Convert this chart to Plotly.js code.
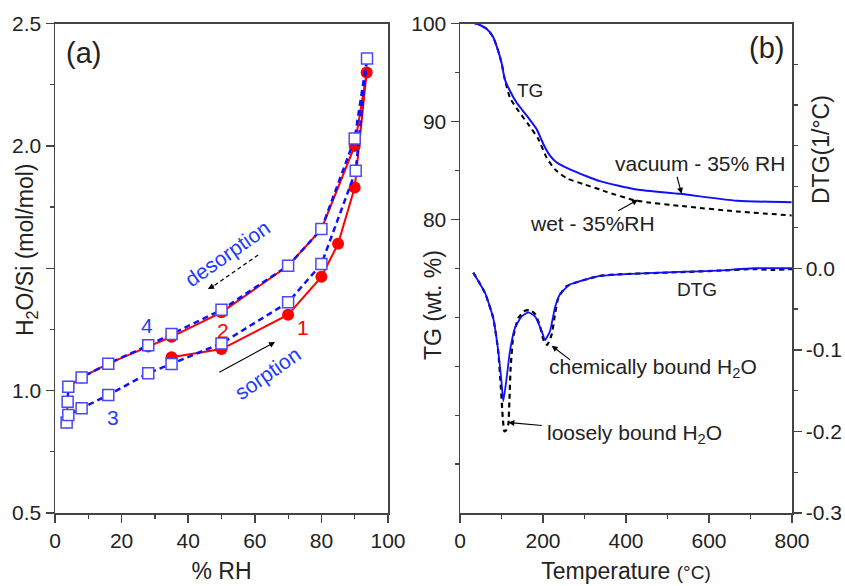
<!DOCTYPE html>
<html>
<head>
<meta charset="utf-8">
<script src="https://cdn.plot.ly/plotly-3.0.1.min.js"></script>
<style>html,body{margin:0;padding:0;background:#fff}#chart{width:845px;height:586px}</style>
</head>
<body>
<div id="chart"></div>
<script>
// ---------- Panel (a): water sorption isotherms ----------
const rhRed   = [35, 50, 70, 80, 85, 90, 93.6, 90, 80, 70, 50, 35, 28, 16, 8, 4, 3.5];
const h2oRed  = [1.136, 1.17, 1.31, 1.465, 1.60, 1.83, 2.30, 2.0, 1.66, 1.51, 1.32, 1.22, 1.18, 1.11, 1.054, 1.016, 0.87];
const rhBlue  = [3.5, 4, 8, 16, 28, 35, 50, 70, 80, 90.3, 93.7, 90, 80, 70, 50, 35, 28, 16, 8, 4, 3.8];
const h2oBlue = [0.87, 0.90, 0.928, 0.982, 1.071, 1.109, 1.193, 1.361, 1.517, 1.898, 2.357, 2.03, 1.66, 1.51, 1.33, 1.231, 1.185, 1.11, 1.054, 1.016, 0.955];

// ---------- Panel (b): TG / DTG ----------
const tTgVac  = [35, 40, 64, 80, 92, 100.5, 108, 120.5, 136.6, 160.7, 184.8, 200.7, 216.9, 233, 265, 305, 337, 426, 530, 667, 799];
const tgVac   = [100, 100, 99.46, 98.6, 97.2, 95.9, 94.3, 93.1, 91.9, 90.6, 89.2, 87.7, 86.5, 85.8, 85.1, 84.4, 83.9, 83.05, 82.6, 81.9, 81.75];
const tTgWet  = [35, 40, 64, 80, 92, 100.5, 108, 120.5, 140.5, 164.6, 188.7, 208.8, 228.9, 257, 297, 337, 353, 426, 546, 667, 799];
const tgWet   = [100, 100, 99.46, 98.6, 97.2, 95.9, 94.3, 92.4, 91.1, 89.7, 88.2, 86.3, 85.1, 84.2, 83.6, 83.05, 82.8, 81.9, 81.3, 80.8, 80.4];

const tDtgVac = [32, 60, 80, 92, 100.5, 104.3, 112.5, 120.5, 132.5, 148.7, 164.6, 180.7, 196.9, 204.8, 216.9, 228.9, 241, 265, 305, 337, 386, 546, 620, 707, 800];
const dtgVac  = [-0.0054, -0.030, -0.061, -0.101, -0.142, -0.163, -0.134, -0.101, -0.073, -0.059, -0.054, -0.059, -0.077, -0.088, -0.077, -0.048, -0.032, -0.020, -0.0135, -0.0094, -0.0074, -0.0042, -0.003, 0, 0];
const tDtgWet = [32, 60, 80, 92, 98, 103, 107, 112, 116.5, 119, 122, 128, 140.5, 156.6, 168.7, 180.7, 192.8, 200.7, 210, 221, 229, 237, 257, 305, 337, 386, 546, 620, 707, 750, 800];
const dtgWet  = [-0.0054, -0.030, -0.061, -0.101, -0.142, -0.183, -0.200, -0.198, -0.191, -0.163, -0.122, -0.085, -0.061, -0.052, -0.0515, -0.056, -0.071, -0.087, -0.094, -0.081, -0.056, -0.036, -0.022, -0.0135, -0.0094, -0.0074, -0.0045, -0.003, -0.001, -0.002, -0.001];

const FONT = "Liberation Sans, Arial, sans-serif";
const AX = '#444';
const W = 845, H = 586;
const px = v => v / W;
const py = v => 1 - v / H;

const traces = [
  {x: rhRed, y: h2oRed, xaxis: 'x', yaxis: 'y', mode: 'lines+markers',
   line: {color: '#ff0000', width: 2},
   marker: {symbol: 'circle', size: 12, color: '#ff0000'}},
  {x: rhBlue, y: h2oBlue, xaxis: 'x', yaxis: 'y', mode: 'lines+markers',
   line: {color: '#1010ff', width: 2.5, dash: '6px,4px'},
   marker: {symbol: 'square', size: 11, color: '#ffffff', line: {color: '#4848ff', width: 1.5}}},
  {x: tTgWet, y: tgWet, xaxis: 'x2', yaxis: 'y2', mode: 'lines',
   line: {color: '#000', width: 2, dash: '5px,4px', shape: 'spline', smoothing: 0.6}},
  {x: tTgVac, y: tgVac, xaxis: 'x2', yaxis: 'y2', mode: 'lines',
   line: {color: '#1010ff', width: 2, shape: 'spline', smoothing: 0.6}},
  {x: tDtgWet, y: dtgWet, xaxis: 'x2', yaxis: 'y3', mode: 'lines',
   line: {color: '#000', width: 2.2, dash: '5px,4px', shape: 'spline', smoothing: 0.5}},
  {x: tDtgVac, y: dtgVac, xaxis: 'x2', yaxis: 'y3', mode: 'lines',
   line: {color: '#1010ff', width: 1.8, shape: 'spline', smoothing: 0.5}}
];

const tickFont = {family: FONT, size: 21, color: '#222'};
const baseAx = {
  showgrid: false, zeroline: false, showline: true, linecolor: AX, linewidth: 1.5,
  ticks: 'outside', ticklen: 8, tickwidth: 1.5, tickcolor: AX, tickfont: tickFont
};
const minorAx = (vals) => ({tickvals: vals, ticks: 'outside', ticklen: 4, tickwidth: 1.2, tickcolor: AX});

const layout = {
  width: W, height: H,
  margin: {l: 0, r: 0, t: 0, b: 0},
  paper_bgcolor: '#fff', plot_bgcolor: '#fff',
  showlegend: false,
  font: {family: FONT, color: '#222'},
  xaxis: Object.assign({}, baseAx, {
    domain: [px(55), px(388)], range: [0, 100], anchor: 'y', mirror: true,
    tickmode: 'array', tickvals: [0, 20, 40, 60, 80, 100],
    minor: minorAx([10, 30, 50, 70, 90]),
    title: {text: '% RH', font: {family: FONT, size: 23, color: '#222'}, standoff: 12}
  }),
  yaxis: Object.assign({}, baseAx, {
    domain: [1 - 513 / H, 1 - 23.5 / H], range: [0.5, 2.5], anchor: 'x', mirror: true,
    tickmode: 'array', tickvals: [0.5, 1.0, 1.5, 2.0, 2.5], ticktext: ['0.5', '1.0', '', '2.0', '2.5'],
    minor: minorAx([0.75, 1.25, 1.75, 2.25])
  }),
  xaxis2: Object.assign({}, baseAx, {
    domain: [px(460), px(792)], range: [0, 800], anchor: 'y2', mirror: true,
    tickmode: 'array', tickvals: [0, 200, 400, 600, 800],
    minor: minorAx([100, 300, 500, 700]),
    title: {text: 'Temperature <span style="font-size:19px">(°C)</span>', font: {family: FONT, size: 23, color: '#222'}, standoff: 12}
  }),
  yaxis2: Object.assign({}, baseAx, {
    domain: [1 - 513 / H, 1 - 23.5 / H], range: [50, 100], anchor: 'x2',
    tickmode: 'array', tickvals: [80, 90, 100], ticktext: ['80', '90', '100'],
    minor: minorAx([55, 60, 65, 70, 75, 85, 95])
  }),
  yaxis3: Object.assign({}, baseAx, {
    range: [-0.3, 0.3], overlaying: 'y2', side: 'right', anchor: 'x2',
    tickmode: 'array', tickvals: [-0.3, -0.2, -0.1, 0], ticktext: ['-0.3', '-0.2', '-0.1', '0.0'],
    minor: minorAx([-0.25, -0.15, -0.05, 0.05, 0.1, 0.15, 0.2, 0.25])
  }),
  shapes: [
    // dashed shaft of the "desorption" arrow
    {type: 'line', xref: 'x', yref: 'y', x0: 61, y0: 1.554, x1: 47.5, y1: 1.426,
     line: {color: '#000', width: 1.3, dash: '4px,3px'}}
  ],
  annotations: []
};

const txt = (text, x, y, size, color, extra) => Object.assign({
  text: text, xref: 'paper', yref: 'paper', x: px(x), y: py(y),
  xanchor: 'center', yanchor: 'middle', showarrow: false,
  font: {family: FONT, size: size, color: color}
}, extra || {});

const arrow = (xref, yref, hx, hy, tx, ty) => ({
  text: '', xref: xref, yref: yref, x: hx, y: hy, axref: xref, ayref: yref, ax: tx, ay: ty,
  showarrow: true, arrowhead: 2, arrowsize: 1.1, arrowwidth: 1.1, arrowcolor: '#000', standoff: 0
});

layout.annotations.push(
  // axis titles (y) placed as in the original
  txt('H<sub>2</sub>O/Si (mol/mol)', 26, 250, 23, '#222', {textangle: -90}),
  txt('TG (wt. %)', 433, 305, 23, '#222', {textangle: -90}),
  txt('DTG(1/°C)', 821, 150, 23, '#222', {textangle: -90}),
  // panel (a)
  txt('(a)', 83.5, 53.5, 29, '#222'),
  txt('desorption', 227, 253, 21, '#1f3cff', {textangle: -35}),
  txt('sorption', 267, 373, 21, '#1f3cff', {textangle: -35}),
  txt('4', 147, 325, 21, '#1f3cff'),
  txt('3', 113, 417, 21, '#1f3cff'),
  txt('2', 223, 330, 21, '#ff0000'),
  txt('1', 303, 327, 21, '#ff0000'),
  arrow('x', 'y', 45.9, 1.415, 48.2, 1.432),
  arrow('x', 'y', 66.1, 1.199, 48.9, 1.072),
  // panel (b)
  txt('(b)', 766.7, 48, 29, '#222'),
  txt('TG', 530, 90, 19, '#222'),
  txt('vacuum - 35% RH', 700, 163, 21, '#222'),
  txt('wet - 35%RH', 592, 223, 21, '#222'),
  txt('DTG', 697, 289, 19, '#222'),
  txt('chemically bound H<sub>2</sub>O', 653, 368, 21, '#222'),
  txt('loosely bound H<sub>2</sub>O', 634, 434, 21, '#222'),
  arrow('x2', 'y2', 534, 82.6, 522, 84.5),
  arrow('x2', 'y2', 429, 82.0, 377.6, 80.8),
  arrow('x2', 'y3', 221, -0.095, 269, -0.1137),
  arrow('x2', 'y3', 116.4, -0.189, 200.7, -0.193)
);

Plotly.newPlot('chart', traces, layout, {displayModeBar: false, staticPlot: true});
</script>
</body>
</html>
